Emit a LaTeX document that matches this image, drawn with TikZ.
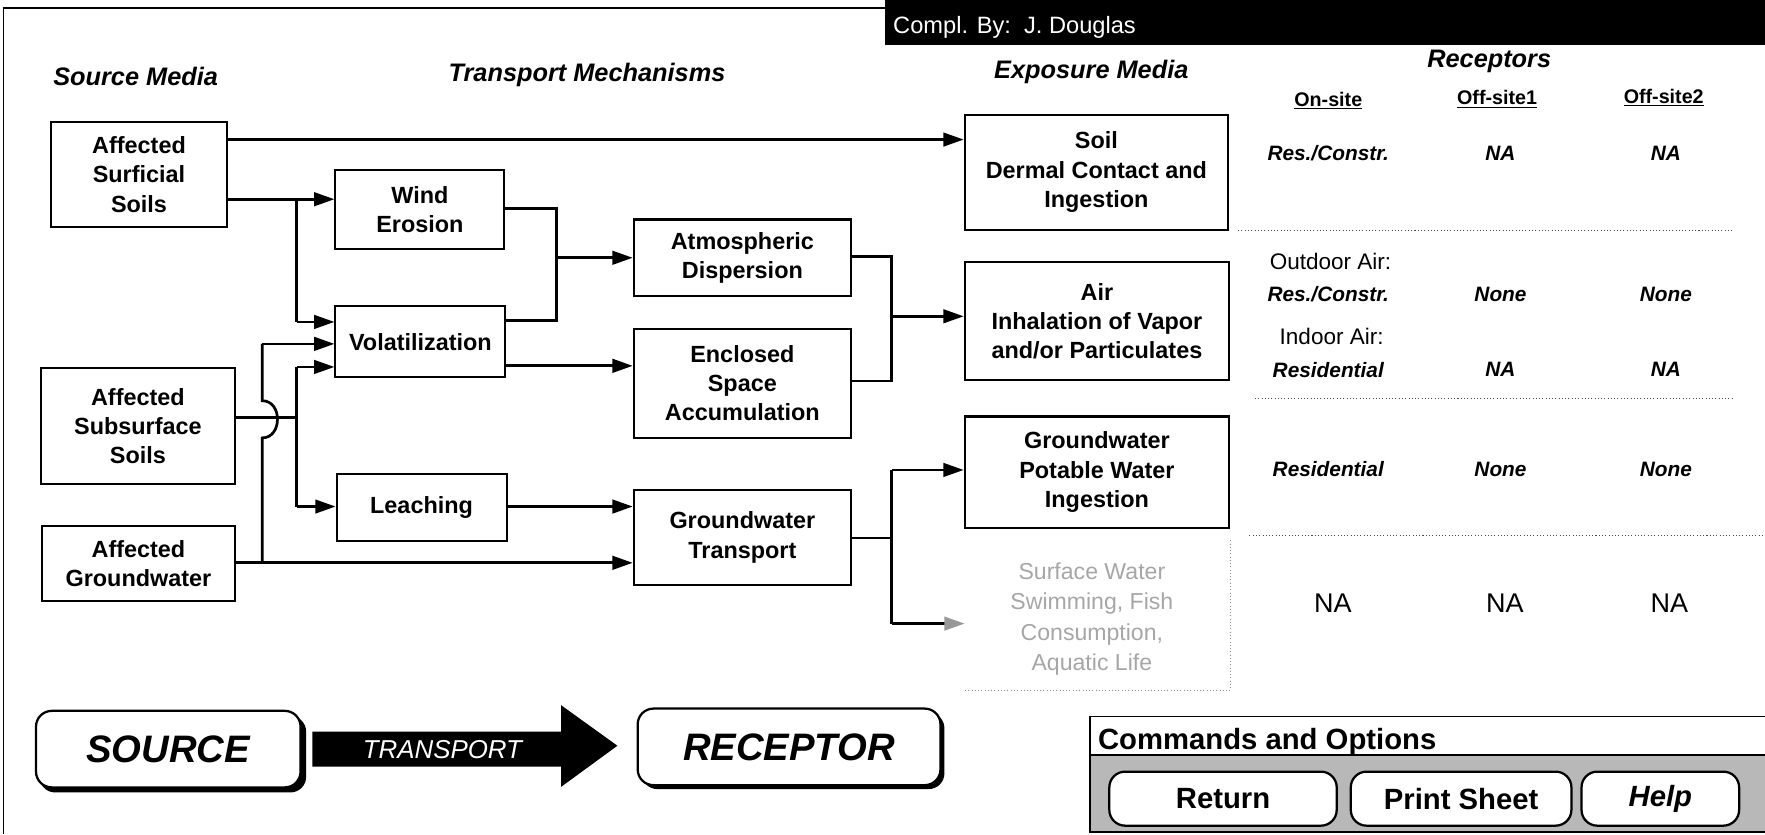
\documentclass[tikz,border=0pt]{standalone}
\usepackage{fontspec}
\setmainfont{Liberation Sans}
\usetikzlibrary{arrows.meta}
\begin{document}
\begin{tikzpicture}[x=1pt,y=-1pt,
  box/.style={draw, line width=1.8pt, align=center, inner sep=0pt, fill=white,
    font=\bfseries\fontsize{20.8}{26}\selectfont},
  hdr/.style={font=\bfseries\itshape\fontsize{22.5}{26}\selectfont},
  colhdr/.style={font=\bfseries\fontsize{17.5}{22}\selectfont},
  rec/.style={font=\bfseries\itshape\fontsize{18.5}{22}\selectfont},
  recn/.style={font=\fontsize{20}{24}\selectfont},
  ln/.style={line width=2.4pt},
  arr/.style={line width=2.4pt, -{Triangle[length=18pt,width=12pt]}},
  sep/.style={dotted, line width=0.9pt, black!70},
  big/.style={draw, line width=2pt, fill=white, rounded corners=14pt, inner sep=0pt,
    font=\bfseries\itshape\fontsize{34}{40}\selectfont},
  btn/.style={draw, line width=2pt, fill=white, rounded corners=14pt, inner sep=0pt,
    minimum height=48pt, font=\bfseries\fontsize{26}{30}\selectfont}
]
\useasboundingbox (0,0) rectangle (1568,741);

% frame and title bar
\draw[line width=1.2pt] (3,741) -- (3,7) -- (786,7);
\fill[black] (786,0) rectangle (1568,40);
\node[anchor=west, text=white, font=\fontsize{21}{24}\selectfont] (title) at (790,24) {Compl. By:\ \ J. Douglas};

% headers
\node[hdr] (hSrc) at (120.5,68) {Source Media};
\node[hdr] (hTr) at (521.5,66.5) {Transport Mechanisms};
\node[hdr] (hExp) at (969.5,64) {Exposure Media};
\node[hdr] (hRec) at (1323,55) {Receptors};
\node[colhdr] (cOn) at (1180,89) {\underline{On-site}};
\node[colhdr] (cOff1) at (1330,88) {\underline{Off-site1}};
\node[colhdr] (cOff2) at (1478,87) {\underline{Off-site2}};

% boxes
\node[box, minimum width=157pt, minimum height=94pt] (nSurf) at (123.5,155) {Affected\\Surficial\\Soils};
\node[box, minimum width=150pt, minimum height=70pt] (nWind) at (373,186) {Wind\\Erosion};
\node[box, minimum width=151pt, minimum height=63pt] (nVol) at (373.5,303.5) {Volatilization};
\node[box, minimum width=173pt, minimum height=103pt] (nSub) at (122.5,378.5) {Affected\\Subsurface\\Soils};
\node[box, minimum width=151pt, minimum height=60pt] (nLeach) at (374.5,451) {Leaching};
\node[box, minimum width=172pt, minimum height=67pt] (nGw) at (123,500.5) {Affected\\Groundwater};
\node[box, minimum width=193pt, minimum height=68pt] (nAtm) at (659.5,229) {Atmospheric\\Dispersion};
\node[box, minimum width=193pt, minimum height=97pt] (nEnc) at (659.5,340.5) {Enclosed\\Space\\Accumulation};
\node[box, minimum width=193pt, minimum height=85pt] (nGwt) at (659.5,477.5) {Groundwater\\Transport};
\node[box, minimum width=234pt, minimum height=102pt] (nSoil) at (974,153) {Soil\\Dermal Contact and\\Ingestion};
\node[box, minimum width=235pt, minimum height=105pt] (nAir) at (974.5,285.5) {Air\\Inhalation of Vapor\\and/or Particulates};
\node[box, minimum width=235pt, minimum height=99pt] (nPot) at (974.5,419.5) {Groundwater\\Potable Water\\Ingestion};
\node[align=center, text=black!35, font=\fontsize{20.5}{27}\selectfont] (nSurfw) at (970,550)
  {Surface Water\\Swimming, Fish\\Consumption,\\Aquatic Life};
\coordinate (gIn) at (857,554);
\draw[sep, black!45] (1093.5,480) -- (1093.5,613) -- (857,613);

% connectors
\coordinate (jW) at (263.5,177);
\coordinate (jV) at (263.5,286);
\coordinate (jR) at (494.5,229);
\coordinate (jS) at (263.5,371);
\coordinate (jG) at (233,500);
\coordinate (jE) at (792,281);
\coordinate (jT) at (792,478);
\coordinate (jB) at (792,554);

\draw[arr] (nSurf.east |- 0,124) -- (nSoil.west |- 0,124);
\draw[arr] (nSurf.east |- jW) -- (nWind.west |- jW);
\draw[ln] (jW) -- (jV);
\draw[arr] (jV) -- (nVol.west |- jV);
\draw[ln] (nWind.east |- 0,185) -- (494.5,185) -- (494.5,285) -- (nVol.east |- 0,285);
\draw[arr] (jR) -- (nAtm.west |- jR);
\draw[arr] (nVol.east |- 0,325) -- (nEnc.west |- 0,325);
\draw[ln] (nSub.east |- jS) -- (jS);
\draw[ln] (263.5,326) -- (263.5,450);
\draw[arr] (263.5,326) -- (nVol.west |- 0,326);
\draw[arr] (263.5,450) -- (nLeach.west |- 0,450);
\draw[arr] (nGw.east |- jG) -- (nGwt.west |- jG);
\draw[ln] (jG) -- (233,389) .. controls (251,389) and (251,356) .. (233,356) -- (233,305.5);
\draw[arr] (233,305.5) -- (nVol.west |- 0,305.5);
\draw[arr] (nLeach.east |- 0,450) -- (nGwt.west |- 0,450);
\draw[ln] (nAtm.east |- 0,228) -- (792,228) -- (792,338.5) -- (nEnc.east |- 0,338.5);
\draw[arr] (jE) -- (nAir.west |- jE);
\draw[ln] (nGwt.east |- jT) -- (jT);
\draw[ln] (792,417.5) -- (jB);
\draw[arr] (792,417.5) -- (nPot.west |- 0,417.5);
\draw[line width=2.4pt, -{Triangle[length=18pt,width=12pt,color=black!40]}] (jB) -- (gIn);

% receptor table
\node[rec] (r1a) at (1180,136) {Res./Constr.};
\node[rec] (r1b) at (1333,136) {NA};
\node[rec] (r1c) at (1480,136) {NA};
\draw[sep] (1100,204.5) -- (1540,204.5);
\node[recn] (r2o) at (1182,232.5) {Outdoor Air:};
\node[rec] (r2a) at (1180,261.5) {Res./Constr.};
\node[rec] (r2b) at (1333,261.5) {None};
\node[rec] (r2c) at (1480,261.5) {None};
\node[recn] (r2i) at (1183,299) {Indoor Air:};
\node[rec] (r2d) at (1180,328.5) {Residential};
\node[rec] (r2e) at (1333,328.5) {NA};
\node[rec] (r2f) at (1480,328.5) {NA};
\draw[sep] (1115,354) -- (1541,354);
\node[rec] (r3a) at (1180,417) {Residential};
\node[rec] (r3b) at (1333,417) {None};
\node[rec] (r3c) at (1480,417) {None};
\draw[sep] (1110,475.5) -- (1568,475.5);
\node[font=\fontsize{24}{28}\selectfont] (r4a) at (1184,536) {NA};
\node[font=\fontsize{24}{28}\selectfont] (r4b) at (1337,536) {NA};
\node[font=\fontsize{24}{28}\selectfont] (r4c) at (1483,536) {NA};

% source - transport - receptor
\fill[rounded corners=14pt] (35,636) rectangle (272,704);
\node[big, minimum width=235pt, minimum height=68pt] (bSrc) at (149.5,665.5) {SOURCE};
\fill[rounded corners=14pt] (570,633) rectangle (839,701);
\node[big, minimum width=269pt, minimum height=68pt] (bRec) at (701,663.5) {RECEPTOR};
\fill[black] (277.5,650) -- (498.5,650) -- (498.5,626.5) -- (548.5,662.5) -- (498.5,699) -- (498.5,681) -- (277.5,681) -- cycle;
\node[text=white, font=\itshape\fontsize{23}{26}\selectfont] (tTr) at (393,666) {TRANSPORT};

% commands panel
\fill[black!28] (968.5,670.5) rectangle (1570,739);
\draw[line width=1.5pt] (1570,636.5) -- (968.5,636.5) -- (968.5,739) -- (1570,739);
\draw[line width=1.5pt] (968.5,670.5) -- (1570,670.5);
\node[anchor=west, font=\bfseries\fontsize{26}{30}\selectfont] (cmd) at (972,659) {Commands and Options};
\node[btn, minimum width=202pt] (bRet) at (1086.5,709.5) {Return};
\node[btn, minimum width=196pt] (bPrt) at (1298,709.5) {Print Sheet};
\node[btn, minimum width=140pt, font=\bfseries\itshape\fontsize{26}{30}\selectfont] (bHlp) at (1475,709.5) {Help};
\end{tikzpicture}
\end{document}
